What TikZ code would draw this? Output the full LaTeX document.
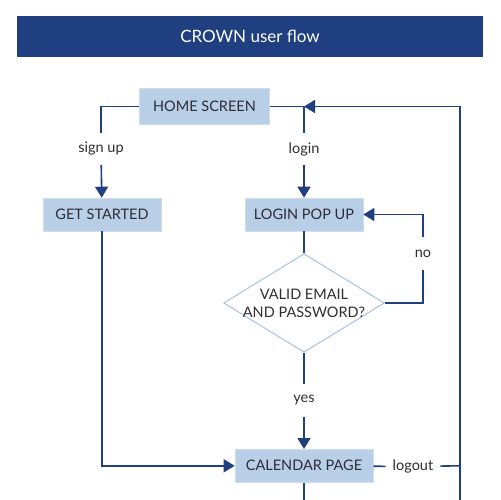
\documentclass[tikz,border=0pt]{standalone}
\usepackage{fontspec}
\setmainfont{Lato}
\usepackage{tikz}
\usetikzlibrary{shapes.geometric, arrows.meta}
\definecolor{navy}{RGB}{31,63,128}
\definecolor{paleblue}{RGB}{185,207,231}
\definecolor{rimblue}{RGB}{165,195,230}
\definecolor{ink}{RGB}{45,45,52}
\tikzstyle{screen} = [rectangle, fill=paleblue, draw=paleblue!70!white, line width=0.6pt, text=ink, minimum height=33pt, inner sep=0pt, font=\fontsize{14.5}{18}\selectfont]
\tikzstyle{check} = [diamond, draw=rimblue, line width=1pt, aspect=1.63, inner sep=-1.5pt, align=center, text=ink, font=\fontsize{14.5}{18}\selectfont]
\tikzstyle{tag} = [text=ink, minimum height=32pt, inner xsep=7pt, font=\fontsize{14.5}{18}\selectfont]
\tikzstyle{link} = [draw=navy, line width=1.6pt]
\tikzstyle{arrow} = [link, -{Triangle[length=11pt,width=13pt]}]
\begin{document}
\begin{tikzpicture}[x=1pt, y=-1pt]
    \useasboundingbox (0,0) rectangle (501,500);
    \node (title) [fill=navy, text=white, minimum width=466pt, minimum height=41pt, font=\fontsize{17}{20}\selectfont] at (250,36.5) {CROWN user flow};
    \node (home) [screen, minimum width=130pt, minimum height=36pt] at (204.5,106.5) {HOME SCREEN};
    \node (getstarted) [screen, minimum width=118pt] at (102,214.5) {GET STARTED};
    \node (loginpopup) [screen, minimum width=118pt] at (304,214.5) {LOGIN POP UP};
    \node (valid) [check] at (304,303) {VALID EMAIL\\AND PASSWORD?};
    \node (calendar) [screen, minimum width=138pt] at (304,465.8) {CALENDAR PAGE};
    \node (signup) [tag] at (101,149) {sign up};
    \node (login) [tag] at (304,149) {login};
    \node (no) [tag] at (423,253.5) {no};
    \node (yes) [tag] at (304,400.5) {yes};
    \node (logout) [tag] at (413,466.5) {logout};
    \coordinate (turn) at (304,106.5);
    \coordinate (rail) at (460,465.8);
    \coordinate (railend) at (460,500);
    \coordinate (calend) at (304,500);
    \draw [link] (home) -| (signup);
    \draw [arrow] (signup) -- (getstarted);
    \draw [link] (home) -| (login);
    \draw [arrow] (login) -- (loginpopup);
    \draw [link] (loginpopup) -- (valid);
    \draw [link] (valid) -| (no);
    \draw [arrow] (no) |- (loginpopup);
    \draw [link] (valid) -- (yes);
    \draw [arrow] (yes) -- (calendar);
    \draw [arrow] (getstarted) |- (calendar);
    \draw [link] (calendar) -- (logout);
    \draw [link] (logout) -- (rail);
    \draw [arrow] (railend) |- (turn);
    \draw [link] (calendar) -- (calend);
\end{tikzpicture}
\end{document}
